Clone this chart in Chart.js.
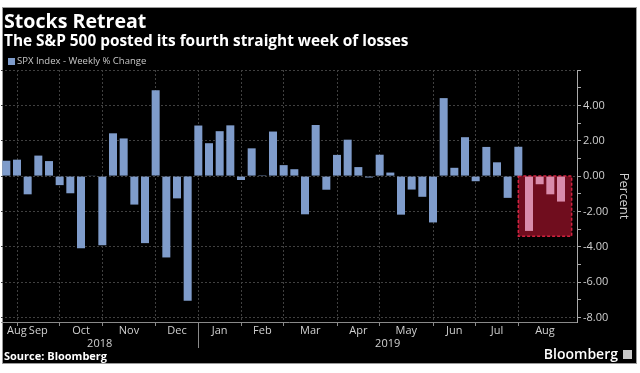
<!DOCTYPE html>
<html>
<head>
<meta charset="utf-8">
<script src="https://cdn.jsdelivr.net/npm/chart.js@4.4.0/dist/chart.umd.min.js"></script>
<style>
    html, body { margin: 0; padding: 0; background: #fff; }
    body { width: 640px; height: 373px; position: relative; overflow: hidden; font-family: "Open Sans", sans-serif; }
    .panel { position: absolute; left: 2px; top: 7px; width: 633px; height: 355px; background: #000; border: 1px solid #9a9a9a; }
    #wrap { position: absolute; left: 0; top: 0; width: 640px; height: 373px; }
    .t { position: absolute; white-space: nowrap; }
    #title { left: 4px; top: 10.5px; font: 700 19.6px/20px "Open Sans", sans-serif; color: #fff; }
    #subtitle { left: 4px; top: 32.5px; font: 700 15.4px/15px "Open Sans", sans-serif; color: #fff; }
    #legend { left: 17px; top: 55.8px; font: 400 9.5px/10px "Open Sans", sans-serif; color: #c8c8c8; }
    #legendBox { position: absolute; left: 8px; top: 58px; width: 7px; height: 7px; background: #7f9ccb; }
    #source { left: 4px; top: 349.7px; font: 700 11px/11px "Open Sans", sans-serif; color: #fff; }
    #brand { right: 22px; top: 347px; font: 600 14px/14px "Open Sans", sans-serif; color: #fff; }
    #logo { position: absolute; left: 623px; top: 350px; width: 9px; height: 9px; background: #c8c8c8; }
</style>
</head>
<body>
<div class="panel"></div>
<div id="wrap"><canvas id="chart"></canvas></div>
<div class="t" id="title">Stocks Retreat</div>
<div class="t" id="subtitle">The S&amp;P 500 posted its fourth straight week of losses</div>
<div id="legendBox"></div>
<div class="t" id="legend">SPX Index - Weekly % Change</div>
<div class="t" id="source">Source: Bloomberg</div>
<div class="t" id="brand">Bloomberg</div>
<div id="logo"></div>
<script>
// week-ending dates (Fridays)
const weeks = [
    "2018-08-24", "2018-08-31", "2018-09-07", "2018-09-14", "2018-09-21", "2018-09-28",
    "2018-10-05", "2018-10-12", "2018-10-19", "2018-10-26",
    "2018-11-02", "2018-11-09", "2018-11-16", "2018-11-23", "2018-11-30",
    "2018-12-07", "2018-12-14", "2018-12-21", "2018-12-28",
    "2019-01-04", "2019-01-11", "2019-01-18", "2019-01-25",
    "2019-02-01", "2019-02-08", "2019-02-15", "2019-02-22",
    "2019-03-01", "2019-03-08", "2019-03-15", "2019-03-22", "2019-03-29",
    "2019-04-05", "2019-04-12", "2019-04-19", "2019-04-26",
    "2019-05-03", "2019-05-10", "2019-05-17", "2019-05-24", "2019-05-31",
    "2019-06-07", "2019-06-14", "2019-06-21", "2019-06-28",
    "2019-07-05", "2019-07-12", "2019-07-19", "2019-07-26",
    "2019-08-02", "2019-08-09", "2019-08-16", "2019-08-23", "2019-08-30",
];

// weekly % change, last week not yet reported
const weeklyChange = [
    0.87, 0.93, -1.03, 1.16, 0.85, -0.51,
    -0.97, -4.08, 0.02, -3.91,
    2.42, 2.13, -1.61, -3.79, 4.85,
    -4.60, -1.26, -7.05, 2.86,
    1.86, 2.54, 2.87, -0.22,
    1.57, 0.05, 2.52, 0.62,
    0.39, -2.16, 2.89, -0.77, 1.20,
    2.06, 0.51, -0.08, 1.21,
    0.20, -2.18, -0.76, -1.17, -2.62,
    4.41, 0.47, 2.20, -0.29,
    1.65, 0.78, -1.23, 1.66,
    -3.10, -0.46, -1.03, -1.44, null,
];

const monthNames = ["Jan", "Feb", "Mar", "Apr", "May", "Jun", "Jul", "Aug", "Sep", "Oct", "Nov", "Dec"];
const yTicks = [6, 5, 4, 3, 2, 1, 0, -1, -2, -3, -4, -5, -6, -7, -8];

// the losing streak that is boxed in red
const streakFrom = 49;
const streakTo = 52;
const streakLow = -3.4;

const blue = "#7f9ccb";
const pink = "#d98cab";
const gridColor = "#404040";
const labelColor = "#d0d0d0";

const month = (i) => Number(weeks[i].slice(5, 7));
const year = (i) => weeks[i].slice(0, 4);

// a gridline sits on the last week before a new month starts
const boundaries = [];
for (let i = 0; i < weeks.length - 1; i++) {
    if (month(i) !== month(i + 1)) boundaries.push(i);
}

const streakBox = {
    id: "streakBox",
    beforeDatasetsDraw(chart) {
        const { ctx, scales: { x, y } } = chart;
        const x1 = x.getPixelForValue(streakFrom - 1);
        const x2 = x.getPixelForValue(streakTo + 1);
        const y1 = y.getPixelForValue(0);
        const y2 = y.getPixelForValue(streakLow);
        ctx.save();
        ctx.fillStyle = "#700d1e";
        ctx.fillRect(x1, y1, x2 - x1, y2 - y1);
        ctx.strokeStyle = "#d4223f";
        ctx.lineWidth = 1.5;
        ctx.setLineDash([3, 2]);
        ctx.strokeRect(x1, y1, x2 - x1, y2 - y1);
        ctx.restore();
    },
};

const monthLabels = {
    id: "monthLabels",
    afterDraw(chart) {
        const { ctx, chartArea, scales: { x } } = chart;
        ctx.save();
        ctx.fillStyle = labelColor;
        ctx.font = "11px 'Open Sans', sans-serif";
        ctx.textAlign = "center";
        ctx.textBaseline = "alphabetic";

        const edges = [0].concat(boundaries, [weeks.length - 1]);
        for (let k = 0; k < edges.length - 1; k++) {
            const a = x.getPixelForValue(edges[k]);
            const b = x.getPixelForValue(edges[k + 1]);
            const name = monthNames[month(edges[k + 1]) - 1];
            const half = ctx.measureText(name).width / 2;
            let cx = (a + b) / 2;
            cx = Math.max(cx, chartArea.left + 6 + half);
            ctx.fillText(name, cx, 333.5);
        }

        // year labels and divider
        let split = boundaries.find((i) => year(i) !== year(i + 1));
        const sx = x.getPixelForValue(split);
        ctx.fillText(year(0), (chartArea.left + sx) / 2, 346.5);
        ctx.fillText(year(weeks.length - 1), (sx + chartArea.right) / 2, 346.5);
        ctx.strokeStyle = "#8a8a8a";
        ctx.lineWidth = 1;
        ctx.beginPath();
        ctx.moveTo(Math.round(sx) + 0.5, chartArea.bottom);
        ctx.lineTo(Math.round(sx) + 0.5, 348);
        ctx.stroke();
        ctx.restore();
    },
};

Chart.defaults.font.family = "'Open Sans', sans-serif";

new Chart(document.getElementById("chart").getContext("2d"), {
    type: "bar",

    data: {
        labels: weeks,

        datasets: [
            {
                label: "SPX Index - Weekly % Change",

                data: weeklyChange,

                backgroundColor: (ctx) => (ctx.dataIndex >= streakFrom ? pink : blue),

                borderWidth: 0,

                categoryPercentage: 1,

                barPercentage: 0.75,
            },
        ],
    },

    options: {
        responsive: true,

        maintainAspectRatio: false,

        animation: false,

        layout: {
            padding: { top: 70, left: 1, right: 8, bottom: 0 },
        },

        scales: {
            x: {
                ticks: { display: false, autoSkip: false },

                grid: {
                    offset: false,
                    color: (ctx) => (boundaries.includes(ctx.index) ? gridColor : "rgba(0,0,0,0)"),
                    tickColor: (ctx) => (boundaries.includes(ctx.index) ? "#8a8a8a" : "rgba(0,0,0,0)"),
                    tickLength: 4,
                },

                border: { display: true, color: "#8a8a8a", dash: [2, 2] },

                afterFit: (scale) => {
                    scale.height = 51;
                },
            },

            y: {
                position: "right",

                min: -8.25,

                max: 6,

                afterBuildTicks: (scale) => {
                    scale.ticks = yTicks.map((v) => ({ value: v }));
                },

                ticks: {
                    color: labelColor,
                    font: { size: 11 },
                    padding: 2,
                    callback: (v) => (v % 2 === 0 && v !== 6 ? v.toFixed(2) : ""),
                },

                grid: {
                    color: (ctx) => (ctx.tick && ctx.tick.value % 2 === 0 ? gridColor : "rgba(0,0,0,0)"),
                    tickColor: "#aaaaaa",
                    tickLength: 4,
                },

                border: { display: true, color: "#aaaaaa", dash: [2, 2] },

                title: {
                    display: true,
                    text: "Percent",
                    color: labelColor,
                    font: { size: 13 },
                    padding: 0,
                },

                afterFit: (scale) => {
                    scale.width = 55;
                },
            },
        },

        plugins: {
            legend: { display: false },
            tooltip: { enabled: false },
        },
    },

    plugins: [streakBox, monthLabels],
});
</script>
</body>
</html>
